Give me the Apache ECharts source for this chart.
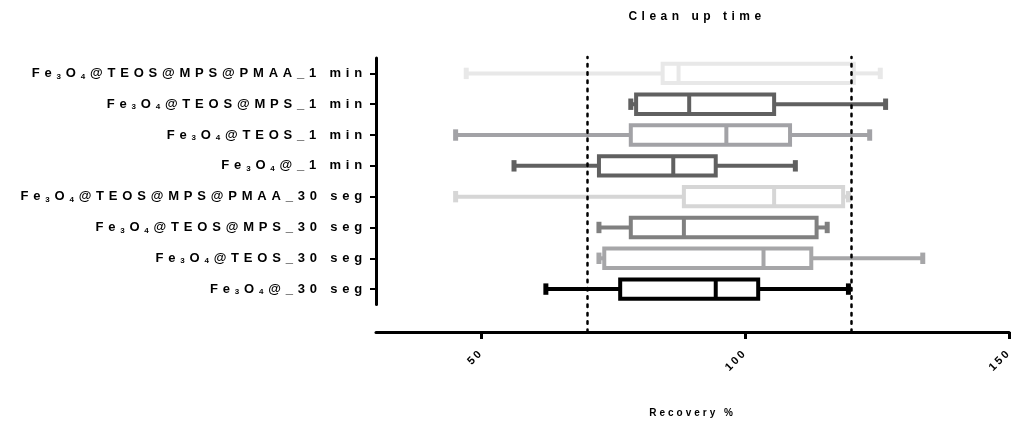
<!DOCTYPE html>
<html>
<head>
<meta charset="utf-8">
<title>Clean up time</title>
<script src="https://cdn.jsdelivr.net/npm/echarts@6/dist/echarts.min.js"></script>
<style>
  html, body { margin: 0; padding: 0; background: #fff; }
  #chart { width: 1016px; height: 425px; }
</style>
</head>
<body>
<div id="chart"></div>
<script>
  // categories, top to bottom
  const categories = [
    'Fe3O4@TEOS@MPS@PMAA_1 min',
    'Fe3O4@TEOS@MPS_1 min',
    'Fe3O4@TEOS_1 min',
    'Fe3O4@_1 min',
    'Fe3O4@TEOS@MPS@PMAA_30 seg',
    'Fe3O4@TEOS@MPS_30 seg',
    'Fe3O4@TEOS_30 seg',
    'Fe3O4@_30 seg',
  ];
  const mins = [47, 78, 45, 56, 45, 72, 72, 62];
  const q1s = [84, 79, 78, 72, 88, 78, 73, 76];
  const medians = [87, 89, 96, 86, 105, 88, 103, 94];
  const q3s = [120, 105, 108, 94, 118, 113, 112, 102];
  const maxs = [125, 126, 123, 109, 119, 115, 133, 119];
  const refLines = [70, 120];
  const xTicks = [50, 100, 150];

  const boxColors = ['#e8e8e8', '#606060', '#a2a2a6', '#606060', '#d6d6d6', '#808080', '#a6a6a8', '#000000'];

  // GraphPad export uses wide letter spacing, canvas can do it per font size
  const trackingBySize = { 11: '2.5px', 10: '3px', 12: '4.5px' };
  ['fillText', 'strokeText', 'measureText'].forEach(function (name) {
    const original = CanvasRenderingContext2D.prototype[name];
    CanvasRenderingContext2D.prototype[name] = function () {
      const size = parseInt((String(this.font).match(/(\d+)px/) || [])[1], 10);
      this.letterSpacing = trackingBySize[size] || '4.8px';
      return original.apply(this, arguments);
    };
  });

  const boxData = categories.map(function (c, i) {
    return [i, mins[i], q1s[i], medians[i], q3s[i], maxs[i]];
  });

  const font = 'Liberation Sans, Arial, sans-serif';
  const chart = echarts.init(document.getElementById('chart'));

  const option = {
    animation: false,
    textStyle: { fontFamily: font, fontWeight: 'bold', color: '#000' },
    title: {
      text: 'Clean up time',
      left: 692,
      top: 3,
      textAlign: 'center',
      textStyle: { fontSize: 12, fontWeight: 'bold', color: '#000', fontFamily: font },
    },
    grid: [
      { left: 376, right: 3, top: 58, bottom: 120.5 },
      { left: 376, right: 3, top: 57, bottom: 92 },
    ],
    xAxis: [
      { gridIndex: 0, type: 'value', min: 30, max: 150, show: false },
      {
        gridIndex: 1,
        type: 'value',
        min: 30,
        max: 150,
        name: 'Recovery %',
        nameLocation: 'middle',
        nameGap: 75,
        nameTextStyle: { fontSize: 10, fontWeight: 'bold', color: '#000', fontFamily: font },
        axisLine: { show: true, lineStyle: { color: '#000', width: 3 } },
        axisTick: { show: true, length: 7, customValues: xTicks, lineStyle: { color: '#000', width: 3 } },
        axisLabel: {
          customValues: xTicks,
          rotate: 45,
          margin: 19,
          fontSize: 11,
          fontWeight: 'bold',
          color: '#000',
        },
        splitLine: { show: false },
      },
    ],
    yAxis: [
      {
        gridIndex: 0,
        type: 'category',
        inverse: true,
        data: categories,
        axisLine: { show: true, lineStyle: { color: '#000', width: 3 } },
        axisTick: { show: true, alignWithLabel: true, length: 6, lineStyle: { color: '#000', width: 2 } },
        axisLabel: {
          margin: 9,
          fontSize: 13,
          fontWeight: 'bold',
          color: '#000',
          lineHeight: 15,
          formatter: function (v) {
            return v.replace('Fe3O4', 'Fe{sub|3}O{sub|4}');
          },
          rich: {
            sub: {
              fontSize: 8,
              fontWeight: 'bold',
              color: '#000',
              fontFamily: font,
              lineHeight: 15,
              padding: [6, 0, 0, 0],
            },
          },
        },
      },
      { gridIndex: 1, type: 'value', min: 0, max: 1, show: false },
    ],
    series: [
      {
        type: 'custom',
        xAxisIndex: 0,
        yAxisIndex: 0,
        data: boxData,
        encode: { x: [1, 2, 3, 4, 5], y: 0 },
        renderItem: function (params, api) {
          const cat = api.value(0);
          const pLow = api.coord([api.value(1), cat]);
          const pQ1 = api.coord([api.value(2), cat]);
          const pMed = api.coord([api.value(3), cat]);
          const pQ3 = api.coord([api.value(4), cat]);
          const pHigh = api.coord([api.value(5), cat]);
          const band = api.size([0, 1])[1];
          const boxH = band * 0.63;
          const capH = band * 0.37;
          const y = pMed[1];
          const color = boxColors[params.dataIndex];
          const lineStyle = { stroke: color, lineWidth: 4 };
          return {
            type: 'group',
            children: [
              { type: 'line', shape: { x1: pLow[0], y1: y, x2: pQ1[0], y2: y }, style: lineStyle },
              { type: 'line', shape: { x1: pQ3[0], y1: y, x2: pHigh[0], y2: y }, style: lineStyle },
              { type: 'rect', shape: { x: pLow[0] - 2.5, y: y - capH / 2, width: 5, height: capH }, style: { fill: color } },
              { type: 'rect', shape: { x: pHigh[0] - 2.5, y: y - capH / 2, width: 5, height: capH }, style: { fill: color } },
              {
                type: 'rect',
                shape: { x: pQ1[0], y: y - boxH / 2, width: pQ3[0] - pQ1[0], height: boxH },
                style: { fill: '#fff', stroke: color, lineWidth: 4 },
              },
              { type: 'line', shape: { x1: pMed[0], y1: y - boxH / 2, x2: pMed[0], y2: y + boxH / 2 }, style: lineStyle },
            ],
          };
        },
      },
      {
        // dotted reference lines, drawn on the taller grid so they reach the x axis
        type: 'line',
        xAxisIndex: 1,
        yAxisIndex: 1,
        data: [],
        markLine: {
          silent: true,
          symbol: 'none',
          label: { show: false },
          lineStyle: { color: '#000', width: 2.5, type: [2.5, 5.8], cap: 'round' },
          data: refLines.map(function (v) {
            return { xAxis: v };
          }),
        },
      },
    ],
  };

  chart.setOption(option);
</script>
</body>
</html>
